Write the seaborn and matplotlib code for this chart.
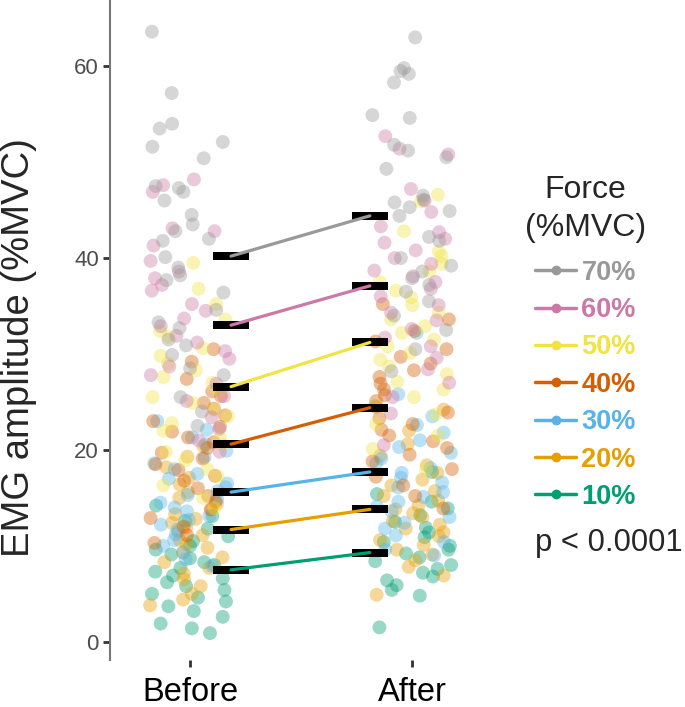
import numpy as np
import pandas as pd
import seaborn as sns
import matplotlib.pyplot as plt
from matplotlib.lines import Line2D

# values (EMG amplitude, %MVC)
forces = ['10%', '20%', '30%', '40%', '50%', '60%', '70%']
colors = ['#009E73', '#E69F00', '#56B4E9', '#D55E00', '#F0E442', '#CC79A7', '#999999']

before10 = [14.2, 13.1, 12.6, 11.8, 11.0, 10.5, 10.0, 9.6, 9.1, 8.7, 8.3, 8.0, 7.7, 7.3,
            6.9, 6.6, 6.2, 5.8, 5.4, 5.0, 4.6, 4.2, 3.7, 3.2, 2.6, 1.9, 1.4, 0.9]
before20 = [20.4, 19.3, 18.2, 17.1, 16.4, 15.6, 15.0, 14.4, 13.8, 13.3, 12.8, 12.4, 11.9, 11.5,
            11.1, 10.6, 10.2, 9.8, 9.3, 8.8, 8.3, 7.7, 7.1, 6.5, 5.8, 5.0, 4.4, 3.8]
before30 = [23.0, 22.1, 21.3, 20.6, 19.9, 19.2, 18.6, 18.0, 17.5, 17.0, 16.5, 16.1, 15.7, 15.3,
            14.9, 14.5, 14.0, 13.6, 13.1, 12.7, 12.2, 11.7, 11.2, 10.6, 10.0, 9.3, 8.6, 7.9]
before40 = [30.5, 29.2, 27.4, 26.1, 25.6, 24.9, 24.3, 23.6, 23.0, 22.4, 21.9, 21.3, 20.8, 20.2,
            19.7, 19.1, 18.5, 17.9, 17.3, 16.8, 16.0, 15.2, 14.6, 13.8, 12.9, 12.0, 11.1, 10.3]
before50 = [39.5, 36.8, 35.2, 33.6, 32.4, 31.8, 30.6, 29.8, 29.0, 28.3, 27.6, 27.0, 26.2, 25.5,
            24.9, 24.2, 23.5, 22.8, 22.0, 21.2, 20.5, 19.8, 18.9, 18.0, 17.2, 16.3, 15.0, 13.9]
before60 = [48.2, 47.6, 46.9, 43.1, 42.8, 41.3, 39.7, 38.6, 37.9, 37.2, 36.6, 35.2, 34.5, 33.7,
            32.9, 31.9, 31.2, 30.3, 29.5, 28.7, 27.8, 26.9, 25.6, 25.1, 23.4, 22.2, 21.0, 19.8]
before70 = [63.6, 57.2, 54.0, 53.5, 52.1, 51.6, 50.4, 47.5, 47.3, 46.9, 46.0, 44.5, 43.5, 42.8,
            42.0, 41.8, 40.1, 39.0, 38.2, 37.7, 36.4, 34.6, 33.3, 32.7, 31.5, 30.9, 29.9, 28.5,
            27.8, 25.5, 24.0, 22.5]

after10 = [17.7, 15.4, 14.6, 13.9, 13.2, 12.5, 11.9, 11.4, 10.9, 10.4, 10.0, 9.6, 9.2, 8.8,
           8.4, 8.0, 7.6, 7.2, 6.8, 6.4, 5.9, 5.4, 4.8, 1.5]
after20 = [24.2, 22.0, 20.6, 19.4, 18.4, 17.6, 16.9, 16.3, 15.7, 15.2, 14.7, 14.2, 13.8, 13.4,
           13.0, 12.6, 12.2, 11.8, 11.4, 11.0, 10.6, 10.1, 9.6, 9.1, 8.5, 7.8, 6.9, 4.9]
after30 = [32.2, 25.8, 24.6, 23.5, 22.6, 21.8, 21.0, 20.3, 19.7, 19.1, 18.6, 18.1, 17.6, 17.1,
           16.6, 16.1, 15.6, 15.1, 14.6, 14.1, 13.6, 13.0, 12.4, 11.8, 11.1, 10.4, 9.6, 9.0]
after40 = [35.2, 33.6, 32.4, 31.3, 30.5, 29.7, 29.0, 28.3, 27.6, 26.9, 26.3, 25.7, 25.1, 24.5,
           23.9, 23.3, 22.7, 22.1, 21.5, 20.9, 20.2, 19.5, 18.8, 18.0, 17.2, 16.3, 15.2, 13.9]
after50 = [46.6, 45.9, 42.8, 40.7, 40.2, 39.4, 38.6, 37.5, 36.6, 35.9, 35.1, 34.3, 33.6, 32.9,
           32.2, 31.5, 30.8, 30.1, 29.4, 28.7, 27.9, 27.1, 26.3, 25.5, 24.6, 23.7, 22.7, 21.5,
           20.1, 18.0]
after60 = [52.7, 51.4, 50.8, 47.2, 46.0, 44.8, 43.3, 42.7, 42.0, 41.6, 40.8, 40.0, 39.4, 38.7,
           38.1, 37.5, 36.8, 36.0, 35.1, 34.3, 33.5, 32.6, 31.7, 30.8, 29.6, 28.4, 27.0, 25.5,
           23.8, 20.5]
after70 = [63.0, 59.8, 59.5, 59.2, 58.3, 54.9, 54.6, 51.8, 51.2, 50.5, 49.3, 46.5, 46.1, 45.8,
           45.3, 44.9, 44.4, 42.2, 41.8, 40.0, 39.2, 38.6, 37.9, 37.2, 36.5, 35.5, 34.0, 32.5,
           30.5, 28.2]

# group means (black bars)
mean_before = [7.5, 11.7, 15.6, 20.6, 26.6, 33.0, 40.2]
mean_after = [9.3, 13.8, 17.7, 24.4, 31.2, 37.1, 44.4]

before = [before10, before20, before30, before40, before50, before60, before70]
after = [after10, after20, after30, after40, after50, after60, after70]

rows = []
for f, b, a in zip(forces, before, after):
    rows += [('Before', f, v) for v in b]
    rows += [('After', f, v) for v in a]
df = pd.DataFrame(rows, columns=['time', 'force', 'emg'])

means = pd.DataFrame({
    'force': forces * 2,
    'pos': [0.185] * 7 + [1 - 0.19] * 7,
    'emg': mean_before + mean_after,
})

palette = dict(zip(forces, colors))

sns.set_style('white')
plt.rcParams['font.family'] = ['Liberation Sans', 'DejaVu Sans']

fig = plt.figure(figsize=(6.85, 7.07), dpi=100)
ax = fig.add_axes([110 / 685, 1 - 660 / 707, 382 / 685, 660 / 707])

np.random.seed(7)
sns.stripplot(data=df, x='time', y='emg', hue='force', hue_order=forces,
              palette=palette, jitter=0.18, size=10, alpha=0.4, linewidth=0,
              legend=False, ax=ax, zorder=2)

bar = [(-1, -0.24), (1, -0.24), (1, 0.24), (-1, 0.24), (-1, -0.24)]
sns.scatterplot(data=means, x='pos', y='emg', marker=bar, s=640, color='black',
                linewidth=0, ax=ax, zorder=3, legend=False)
sns.lineplot(data=means, x='pos', y='emg', hue='force', hue_order=forces,
             palette=palette, linewidth=2.3, legend=False, ax=ax, zorder=4)

ax.set_xlim(-0.36, 1.36)
ax.set_ylim(-1.9, 66.9)
ax.set_yticks([0, 20, 40, 60])
ax.set_xticks([0, 1])
ax.set_xticklabels(['Before', 'After'])
ax.set_xlabel('')
ax.set_ylabel('EMG amplitude (%MVC)', fontsize=27.5)
ax.yaxis.set_label_coords(-0.19, 0.474)

for s in ['top', 'right', 'bottom']:
    ax.spines[s].set_visible(False)
ax.spines['left'].set_color('#777777')
ax.spines['left'].set_linewidth(1.5)
ax.tick_params(axis='y', length=5, width=2, color='#333333', labelsize=16,
               labelcolor='#4D4D4D', left=True, pad=3)
ax.tick_params(axis='x', length=5, width=2, color='#333333', labelsize=23.5,
               labelcolor='black', bottom=True, pad=7)

# legend
handles = [Line2D([0], [0], color=c, lw=2.5, marker='o', markersize=6)
           for c in colors[::-1]]
leg = ax.legend(handles, forces[::-1], title='Force\n(%MVC)', loc='upper left',
                bbox_to_anchor=(525 / 685, 1 - 175 / 707), bbox_transform=fig.transFigure,
                frameon=False, fontsize=19.5, title_fontsize=23, handlelength=1.5,
                handletextpad=0.2, labelspacing=0.42, borderaxespad=0, borderpad=0)
for t, c in zip(leg.get_texts(), colors[::-1]):
    t.set_color(c)
    t.set_fontweight('bold')
leg.get_title().set_multialignment('center')
leg.get_title().set_linespacing(1.35)
leg._legend_box.sep = 12

fig.text(535 / 685, 1 - 543 / 707, 'p < 0.0001', fontsize=22.3, va='center', ha='left')

plt.savefig('out.png', dpi=100)
